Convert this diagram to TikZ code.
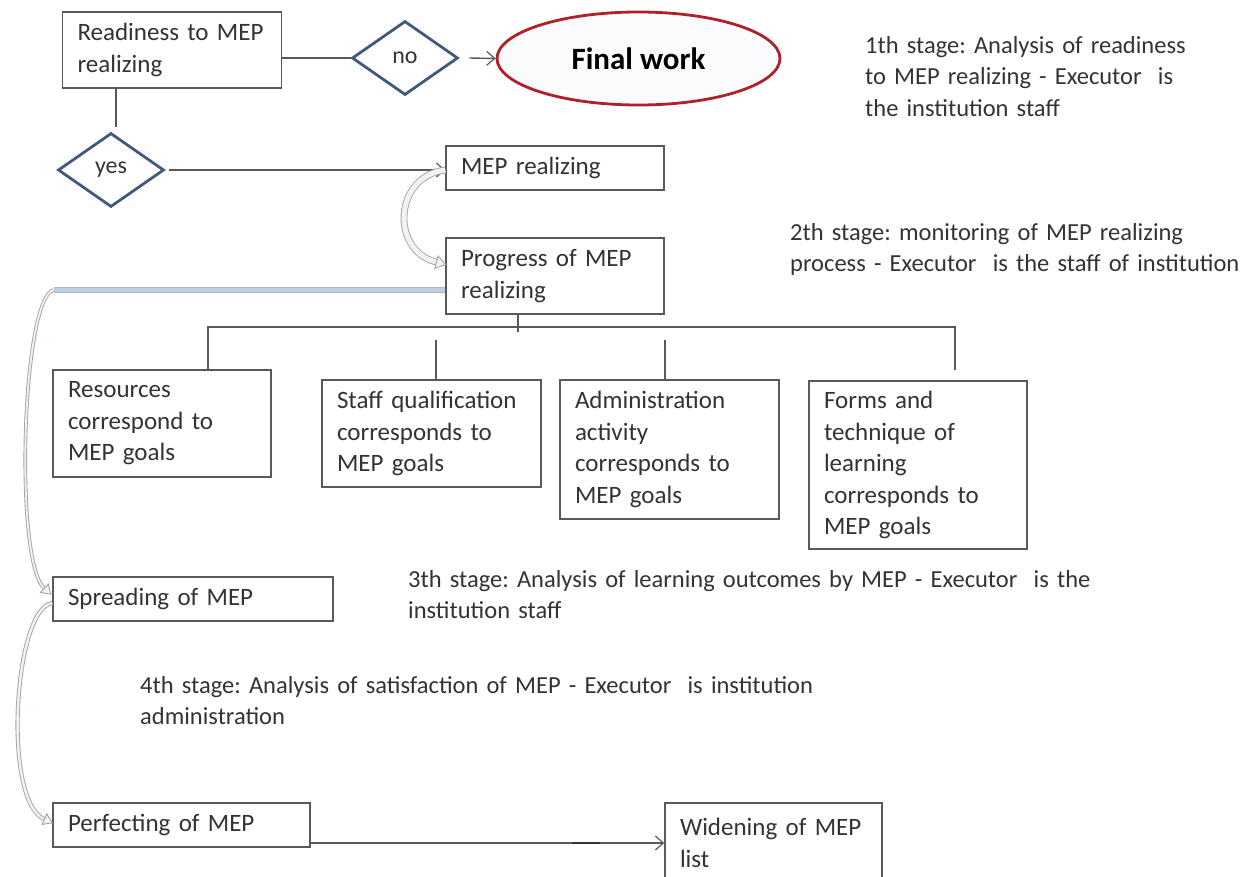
\documentclass[tikz,border=0pt]{standalone}
\usepackage{fontspec}
\setmainfont{Carlito}
\usetikzlibrary{arrows.meta,shapes.geometric,calc}
\frenchspacing
\hyphenpenalty=10000
\exhyphenpenalty=10000
\definecolor{ink}{HTML}{333333}
\definecolor{edge}{HTML}{595959}
\definecolor{decis}{HTML}{41597A}
\definecolor{finalred}{HTML}{B0202A}
\definecolor{finalfill}{HTML}{FAFBFC}
\definecolor{flowgray}{HTML}{A0A4A8}
\definecolor{flowfill}{HTML}{F0F2F4}
\definecolor{flowblue}{HTML}{BDD0E6}
\tikzset{
  txt/.style={font=\fontsize{25}{31.5}\selectfont, text=ink},
  stepbox/.style={txt, draw=edge, line width=1.4pt, rectangle, align=left,
    inner xsep=15pt, inner ysep=0pt, fill=white},
  decision/.style={diamond, draw=decis, line width=2.8pt, minimum width=106pt,
    minimum height=74pt, inner sep=0pt, text=ink, font=\fontsize{24}{28}\selectfont},
  link/.style={draw=edge, line width=1.4pt},
  arr/.style={link, -{Straight Barb[length=8pt,width=14pt,line width=1.2pt]}},
  stage/.style={font=\fontsize{24.5}{31.5}\selectfont, text=ink, align=left,
    inner sep=0pt, anchor=base west, text width=800pt},
  band/.style={draw=flowgray, double=flowfill, line width=0.9pt},
  hollowtip/.style={draw=flowgray, line width=0.9pt,
    -{Triangle[length=#1,width=1.3*#1,fill=flowfill]}},
}
\begin{document}
\begin{tikzpicture}[x=1pt,y=-1pt]
\useasboundingbox (0,0) rectangle (1251,876);
\clip (0,0) rectangle (1251,876);

% decision stage
\node[stepbox, minimum width=219pt, minimum height=76pt, text width=189pt]
  (ready) at (172,50) {Readiness to MEP\\realizing};
\node[decision] (no) at (405,58) {no};
\node[ellipse, draw=finalred, line width=2.8pt, fill=finalfill, minimum width=283pt,
  minimum height=93pt, inner sep=0pt, font=\fontsize{31}{36}\selectfont\bfseries]
  (final) at (638.5,58.5) {Final work};
\node[decision] (yes) at (111,170) {yes};

\draw[link] (ready.east |- no.west) -- (no.west);
\draw[arr] ([xshift=10pt]no.east) -- (final.west);
\draw[link] (ready.south -| 116,0) -- (116,127);

% realization
\node[stepbox, minimum width=218pt, minimum height=44pt, text width=188pt]
  (mep) at (555,168) {MEP realizing};
\node[stepbox, minimum width=218pt, minimum height=76pt, text width=188pt]
  (prog) at (555,276) {Progress of MEP\\realizing};
\draw[arr] ([xshift=4pt]yes.east) -- (mep.west |- yes.east);

% monitored aspects
\node[stepbox, minimum width=218pt, minimum height=107pt, text width=188pt]
  (res) at (162,423.5) {Resources\\correspond to\\MEP goals};
\node[stepbox, minimum width=219pt, minimum height=107pt, text width=189pt]
  (staff) at (431.5,433.5) {Staff qualification\\corresponds to\\MEP goals};
\node[stepbox, minimum width=219pt, minimum height=139pt, text width=189pt]
  (admin) at (669.5,449.5) {Administration\\activity\\corresponds to\\MEP goals};
\node[stepbox, minimum width=218pt, minimum height=168pt, text width=188pt]
  (forms) at (918,465) {Forms and\\technique of\\learning\\corresponds to\\MEP goals};

\coordinate (busL) at (208,327);
\coordinate (busR) at (955,327);
\draw[link] (prog.south -| 518,0) -- (518,332);
\draw[link] (res.north -| busL) -- (busL) -- (busR) -- (955,370);
\draw[link] (staff.north -| 436,0) -- (436,340);
\draw[link] (admin.north -| 665,0) -- (665,340);

% spreading and perfecting
\node[stepbox, minimum width=280pt, minimum height=44pt, text width=250pt]
  (spread) at (193,599) {Spreading of MEP};
\node[stepbox, minimum width=257pt, minimum height=44pt, text width=227pt]
  (perf) at (181.5,825) {Perfecting of MEP};
\node[stepbox, minimum width=217pt, minimum height=80pt, text width=187pt]
  (widen) at (773.5,843) {Widening of MEP\\list};
\draw[arr] (perf.east |- widen.west) -- (widen.west);
\draw[draw=ink, line width=2.2pt] (572,843) -- (600,843);

% curved flow arrows
\draw[band, double distance=5pt] ([yshift=-2pt]mep.west)
  .. controls (394,176) and (390,250) .. (436,262);
\draw[hollowtip=11pt] (436,262) -- ($(436,262)!-11pt!(390,250)$);

\draw[draw=flowgray!80, double=flowblue, double distance=4.5pt, line width=0.8pt]
  ([yshift=-14pt]prog.west) -- (54,290);
\draw[band, double distance=1.8pt] (54,290)
  .. controls (22,295) and (14,560) .. (44,588);
\draw[hollowtip=10pt] (44,588) -- ($(44,588)!-10pt!(14,560)$);

\draw[band, double distance=2.4pt] ([yshift=-4pt]spread.west)
  .. controls (14,608) and (2,800) .. (44,819);
\draw[hollowtip=10pt] (44,819) -- ($(44,819)!-10pt!(2,800)$);

% stage descriptions
\node[stage] (s1) at (865,53) {1th stage: Analysis of readiness\\to MEP realizing - Executor\ \ is\\the institution staff};
\node[stage] (s2) at (790,240) {2th stage: monitoring of MEP realizing\\process - Executor\ \ is the staff of institution};
\node[stage] (s3) at (408,587) {3th stage: Analysis of learning outcomes by MEP - Executor\ \ is the\\institution staff};
\node[stage] (s4) at (140,693) {4th stage: Analysis of satisfaction of MEP - Executor\ \ is institution\\administration};
\end{tikzpicture}
\end{document}
